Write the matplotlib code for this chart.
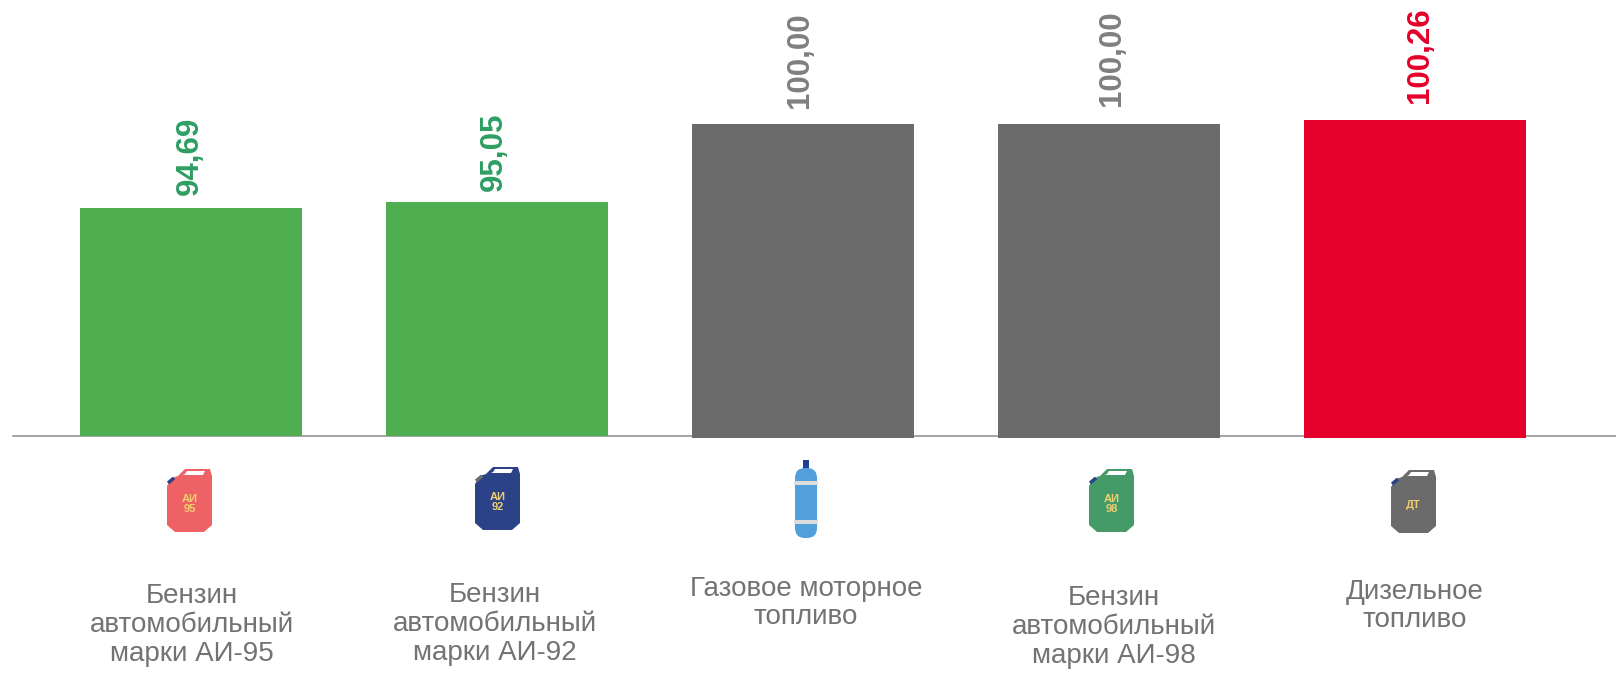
import matplotlib
matplotlib.use('Agg')
import matplotlib.pyplot as plt
from matplotlib.patches import Polygon, FancyBboxPatch, Rectangle

plt.rcParams['font.family'] = ['Liberation Sans', 'DejaVu Sans']

# Data
categories = ['Бензин\nавтомобильный\nмарки АИ-95',
              'Бензин\nавтомобильный\nмарки АИ-92',
              'Газовое моторное\nтопливо',
              'Бензин\nавтомобильный\nмарки АИ-98',
              'Дизельное\nтопливо']
values = [94.69, 95.05, 100.00, 100.00, 100.26]
value_labels = ['94,69', '95,05', '100,00', '100,00', '100,26']

# Styles and layout
bar_colors = ['#4FAF50', '#4FAF50', '#6B6B6B', '#6B6B6B', '#E4002B']
label_colors = ['#2E9E62', '#2E9E62', '#7F7F7F', '#7F7F7F', '#E4002B']
bar_drop = [0, 0, 0.13, 0.13, 0.13]  # grey and red bars hang a bit under the axis
text_gray = '#737373'
W, H = 1616, 675
y_base = 80.25
px_per_unit = 15.8
bar_step = 306
first_center = 191
axis_y = 436

value_x = [190, 494, 800, 1112, 1420]
value_y = [195, 191, 108, 106, 103]
cat_x = [192, 495, 806, 1114, 1415]
cat_y = [625, 624, 603, 627, 606]

fig = plt.figure(figsize=(W / 100, H / 100), dpi=100)

# bars, in data units
ax = fig.add_axes([0, 0, 1, 1])
ax.set_xlim(-first_center / bar_step, (W - first_center) / bar_step)
ax.set_ylim(y_base - (H - axis_y) / px_per_unit, y_base + axis_y / px_per_unit)
ax.axis('off')
for i, v in enumerate(values):
    bottom = y_base - bar_drop[i]
    ax.bar(i, v - bottom, bottom=bottom, width=0.725, color=bar_colors[i], zorder=2)
ax.plot([-first_center / bar_step + 13 / bar_step, (W - first_center) / bar_step],
        [y_base, y_base], color='#8A8A8A', lw=1.1, zorder=1)

# overlay in pixels, for labels and icons
ov = fig.add_axes([0, 0, 1, 1])
ov.set_xlim(0, W)
ov.set_ylim(H, 0)
ov.axis('off')
ov.patch.set_alpha(0)

for i, lab in enumerate(value_labels):
    ov.text(value_x[i], value_y[i], lab, rotation=90, ha='center', va='bottom',
            fontsize=22.5, fontweight='bold', color=label_colors[i])
for i, lab in enumerate(categories):
    ov.text(cat_x[i], cat_y[i], lab, ha='center', va='center', fontsize=20,
            color=text_gray, linespacing=1.13)


def canister(x, y, color, spout, text):
    body = [(0, 17), (5, 9), (11, 7), (18, 0), (43, 0), (45, 7), (45, 56),
            (37, 63), (8, 63), (0, 56)]
    window = [(18, 5), (20, 2), (38, 2), (36, 6), (16, 6)]
    ov.plot([x + 1, x + 7], [y + 14, y + 9], color=spout, lw=2.5, solid_capstyle='butt')
    ov.add_patch(Polygon([(x + a, y + b) for a, b in body], color=color, lw=0))
    ov.add_patch(Polygon([(x + a, y + b) for a, b in window], color='white', lw=0))
    ov.text(x + 22.5, y + 35, text, ha='center', va='center', fontsize=8,
            fontweight='bold', color='#F0CF6E', linespacing=1.0)


canister(167, 469, '#EE6164', '#2B4288', 'АИ\n95')
canister(475, 467, '#2B4288', '#6B6B6B', 'АИ\n92')
canister(1089, 469, '#459B67', '#2B4288', 'АИ\n98')
canister(1391, 470, '#6B6B6B', '#2B4288', 'ДТ')

# gas cylinder
ov.add_patch(Rectangle((803, 460), 6, 10, color='#1F3F8F', lw=0))
ov.add_patch(FancyBboxPatch((795, 468), 22, 70, boxstyle='round,pad=0,rounding_size=10',
                            color='#52A0DB', lw=0))
ov.add_patch(Rectangle((794, 481), 24, 4, color='#DDDDDD', lw=0))
ov.add_patch(Rectangle((794, 520), 24, 4, color='#DDDDDD', lw=0))

fig.savefig('out.png', dpi=100, facecolor='white')
